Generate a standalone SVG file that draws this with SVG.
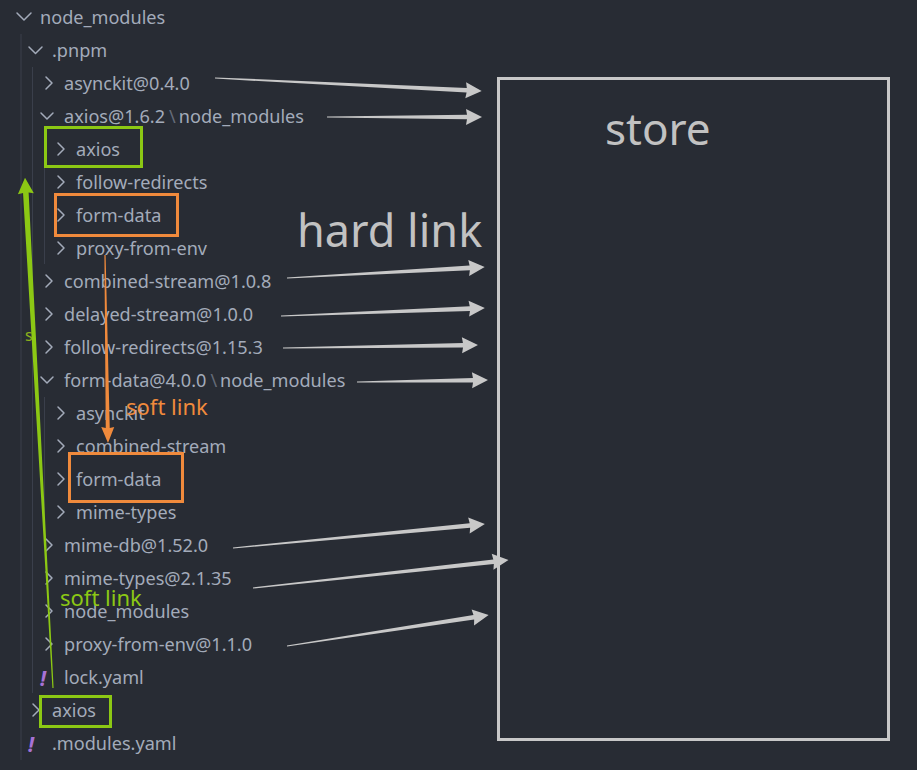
<svg xmlns="http://www.w3.org/2000/svg" width="917" height="770" viewBox="0 0 917 770">
<style>
.t{font-family:"Noto Sans","Open Sans","DejaVu Sans",sans-serif;font-size:18.1px;fill:#a3abba}
.sep{fill:#646b78}
.chev{fill:none;stroke:#a3abba;stroke-width:1.5;stroke-linecap:round;stroke-linejoin:round}
.guide{stroke:#3a3f4b;stroke-width:1}
.big{font-family:"Noto Sans","Open Sans","DejaVu Sans",sans-serif;fill:#c2c2c2}
.gray{fill:#c8c8c8}
.grn{stroke:#8cc814;stroke-width:3;fill:none}
.org{stroke:#f08a3c;stroke-width:3;fill:none}
.excl{font-family:"Noto Sans","DejaVu Sans",sans-serif;font-size:21px;font-weight:bold;font-style:italic;fill:#a772d6}
</style>
<rect x="0" y="0" width="917" height="770" fill="#282c34"/>
<g id="guides">
<line class="guide" x1="21" y1="34" x2="21" y2="760"/>
<line class="guide" x1="32.5" y1="67" x2="32.5" y2="693"/>
<line class="guide" x1="44.5" y1="133" x2="44.5" y2="264"/>
<line class="guide" x1="44.5" y1="397" x2="44.5" y2="528"/>
</g>
<g id="tree">
<g id="n-node_modules"><polyline class="chev" points="17,13 24,20 31,13"/><text class="t" x="40" y="24">node_modules</text></g>
<g id="n-pnpm"><polyline class="chev" points="29,47 35.5,53.5 42,47"/><text class="t" x="52" y="57">.pnpm</text></g>
<g id="n-asynckit"><polyline class="chev" points="46,77 52,83 46,89"/><text class="t" x="64" y="90">asynckit@0.4.0</text></g>
<g id="n-axios162"><polyline class="chev" points="41,113 47,119 53,113"/><text class="t" x="64" y="123">axios@1.6.2<tspan class="sep" dx="4">\</tspan><tspan dx="3">node_modules</tspan></text></g>
<g id="n-axios-child"><polyline class="chev" points="58,143 64,149 58,155"/><text class="t" x="76" y="156">axios</text></g>
<g id="n-follow-child"><polyline class="chev" points="58,176 64,182 58,188"/><text class="t" x="76" y="189">follow-redirects</text></g>
<g id="n-formdata-child"><polyline class="chev" points="58,209 64,215 58,221"/><text class="t" x="76" y="222">form-data</text></g>
<g id="n-proxy-child"><polyline class="chev" points="58,242 64,248 58,254"/><text class="t" x="76" y="255">proxy-from-env</text></g>
<g id="n-combined"><polyline class="chev" points="46,275 52,281 46,287"/><text class="t" x="64" y="288">combined-stream@1.0.8</text></g>
<g id="n-delayed"><polyline class="chev" points="46,308 52,314 46,320"/><text class="t" x="64" y="321">delayed-stream@1.0.0</text></g>
<g id="n-follow"><polyline class="chev" points="46,341 52,347 46,353"/><text class="t" x="64" y="354">follow-redirects@1.15.3</text></g>
<g id="n-formdata400"><polyline class="chev" points="41,377 47,383 53,377"/><text class="t" x="64" y="387">form-data@4.0.0<tspan class="sep" dx="4">\</tspan><tspan dx="3">node_modules</tspan></text></g>
<g id="n-asynckit-child"><polyline class="chev" points="58,407 64,413 58,419"/><text class="t" x="76" y="420">asynckit</text></g>
<g id="n-combined-child"><polyline class="chev" points="58,440 64,446 58,452"/><text class="t" x="76" y="453">combined-stream</text></g>
<g id="n-formdata-child2"><polyline class="chev" points="58,473 64,479 58,485"/><text class="t" x="76" y="486">form-data</text></g>
<g id="n-mimetypes-child"><polyline class="chev" points="58,506 64,512 58,518"/><text class="t" x="76" y="519">mime-types</text></g>
<g id="n-mimedb"><polyline class="chev" points="46,539 52,545 46,551"/><text class="t" x="64" y="552">mime-db@1.52.0</text></g>
<g id="n-mimetypes"><polyline class="chev" points="46,572 52,578 46,584"/><text class="t" x="64" y="585">mime-types@2.1.35</text></g>
<g id="n-nm2"><polyline class="chev" points="46,605 52,611 46,617"/><text class="t" x="64" y="618">node_modules</text></g>
<g id="n-proxy"><polyline class="chev" points="46,638 52,644 46,650"/><text class="t" x="64" y="651">proxy-from-env@1.1.0</text></g>
<g id="n-lock"><text class="excl" x="40" y="686">!</text><text class="t" x="64" y="684">lock.yaml</text></g>
<g id="n-axios-root"><polyline class="chev" points="33,704 39,710 33,716"/><text class="t" x="52" y="717">axios</text></g>
<g id="n-modules-yaml"><text class="excl" x="28" y="752">!</text><text class="t" x="52" y="750">.modules.yaml</text></g>
</g>
<g id="highlights">
<rect class="grn" x="45.5" y="127.5" width="96" height="39"/>
<rect class="grn" x="40.5" y="696.5" width="70" height="30"/>
<rect class="org" x="55.5" y="194.5" width="122" height="41"/>
<rect class="org" x="69.5" y="453.5" width="113" height="48"/>
</g>
<g id="store">
<rect x="498.5" y="78.5" width="390" height="661" fill="none" stroke="#c8c8c8" stroke-width="3"/>
<text class="big" x="605" y="145" font-size="44">store</text>
</g>
<g id="labels">
<text class="big" x="297" y="247" font-size="45">hard link</text>
<text x="126" y="415" font-family="Noto Sans, sans-serif" font-size="22" fill="#f08a3c">soft link</text>
<text x="60" y="606" font-family="Noto Sans, sans-serif" font-size="22" fill="#8cc814">soft link</text>
<text x="25" y="341" font-family="Noto Sans, sans-serif" font-size="16" fill="#8cb01c">s</text>
</g>
<g id="connectors">
<polygon class="gray" transform="translate(215,78) rotate(2.79)" points="0,-0.6 252,-2.3 251,-8 267,0 251,8 252,2.3 0,0.6"/>
<polygon class="gray" transform="translate(327,117) rotate(0)" points="0,-0.6 140,-2.3 139,-8 155,0 139,8 140,2.3 0,0.6"/>
<polygon class="gray" transform="translate(287,278) rotate(-3.18)" points="0,-0.6 183,-2.3 182,-8 198,0 182,8 183,2.3 0,0.6"/>
<polygon class="gray" transform="translate(281,316) rotate(-2.25)" points="0,-0.6 189,-2.3 188,-8 204,0 188,8 189,2.3 0,0.6"/>
<polygon class="gray" transform="translate(283,348) rotate(-0.88)" points="0,-0.6 180,-2.3 179,-8 195,0 179,8 180,2.3 0,0.6"/>
<polygon class="gray" transform="translate(357,382) rotate(-0.87)" points="0,-0.6 116,-2.3 115,-8 131,0 115,8 116,2.3 0,0.6"/>
<polygon class="gray" transform="translate(233,548) rotate(-5.44)" points="0,-0.6 238,-2.3 237,-8 253,0 237,8 238,2.3 0,0.6"/>
<polygon class="gray" transform="translate(253,588) rotate(-6.24)" points="0,-0.6 242,-2.3 241,-8 257,0 241,8 242,2.3 0,0.6"/>
<polygon class="gray" transform="translate(287,646) rotate(-8.72)" points="0,-0.6 189,-2.3 188,-8 204,0 188,8 189,2.3 0,0.6"/>
<polygon fill="#f08a3c" transform="translate(105,255) rotate(89.09)" points="0,-0.6 173,-2 172,-6.5 188,0 172,6.5 173,2 0,0.6"/>
<polygon fill="#8cc814" transform="translate(53,688) rotate(-93.14)" points="0,-0.6 496,-2.8 495,-8 511,0 495,8 496,2.8 0,0.6"/>
</g>
</svg>
